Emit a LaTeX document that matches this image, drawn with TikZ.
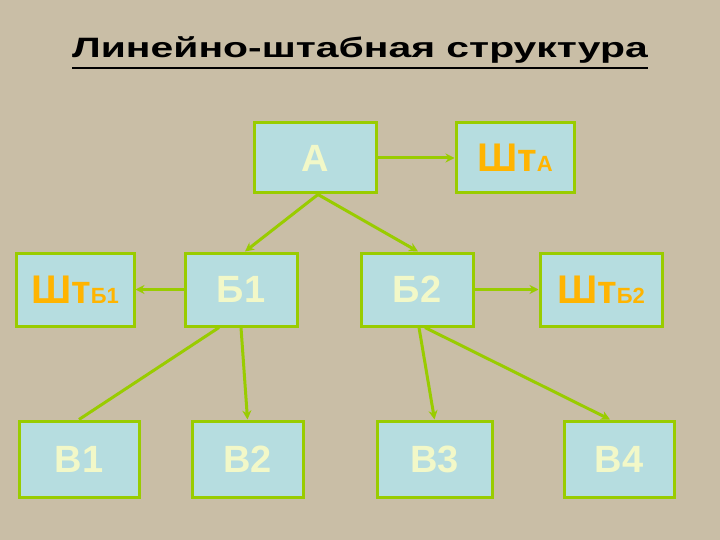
\documentclass[tikz,border=0pt]{standalone}
\usepackage{fontspec}
\setmainfont{Liberation Sans}
\usetikzlibrary{arrows.meta}
\definecolor{bg}{HTML}{C9BEA6}
\definecolor{boxf}{HTML}{B6DDE0}
\definecolor{gr}{HTML}{99CC00}
\definecolor{ltx}{HTML}{F2F8C8}
\definecolor{org}{HTML}{FFB400}
\tikzset{
 bx/.style={draw=gr,line width=3pt,fill=boxf,inner sep=0pt,font=\fontsize{38}{40}\selectfont\bfseries,text=ltx},
 con/.style={draw=gr,line width=3pt},
 arr/.style={con,-{Stealth[length=9pt,width=9pt]}}
}
\newcommand{\shtx}[1]{\textcolor{org}{\fontsize{40}{40}\selectfont Шт\fontsize{22}{22}\selectfont #1}}
\begin{document}
\begin{tikzpicture}[x=1pt,y=-1pt]
\fill[bg] (0,0) rectangle (720,540);
\useasboundingbox (0,0) rectangle (720,540);
\node[font=\fontsize{28}{30}\selectfont\bfseries,inner sep=0pt] (t) at (360,50) {\scalebox{1.46}[1]{Линейно-штабная структура}};
\draw[line width=1.5pt] (72,68) -- (648,68);
\node[bx,minimum width=122pt,minimum height=70pt] (A) at (315,158) {А};
\node[bx,minimum width=118pt,minimum height=70pt] (SA) at (515,158) {\shtx{А}};
\node[bx,minimum width=118pt,minimum height=73pt] (SB1) at (75,289.5) {\shtx{Б1}};
\node[bx,minimum width=112pt,minimum height=73pt] (B1) at (241,289.5) {Б1};
\node[bx,minimum width=112pt,minimum height=73pt] (B2) at (417,289.5) {Б2};
\node[bx,minimum width=122pt,minimum height=73pt] (SB2) at (601,289.5) {\shtx{Б2}};
\node[bx,minimum width=120pt,minimum height=76pt] (V1) at (79,459) {В1};
\node[bx,minimum width=111pt,minimum height=76pt] (V2) at (247.5,459) {В2};
\node[bx,minimum width=115pt,minimum height=76pt] (V3) at (434.5,459) {В3};
\node[bx,minimum width=110pt,minimum height=76pt] (V4) at (619,459) {В4};
\draw[arr] (A.east) -- (SA.west);
\draw[arr] ([xshift=3pt]A.south) -- ([xshift=4pt]B1.north);
\draw[arr] ([xshift=3pt]A.south) -- ([xshift=1pt]B2.north);
\draw[arr] (B1.west) -- (SB1.east);
\draw[arr] (B2.east) -- (SB2.west);
\draw[con] ([xshift=-22pt]B1.south) -- (V1.north);
\draw[arr] (B1.south) -- (V2.north);
\draw[arr] ([xshift=2pt]B2.south) -- (V3.north);
\draw[arr] ([xshift=8pt]B2.south) -- ([xshift=-9pt]V4.north);
\end{tikzpicture}
\end{document}
